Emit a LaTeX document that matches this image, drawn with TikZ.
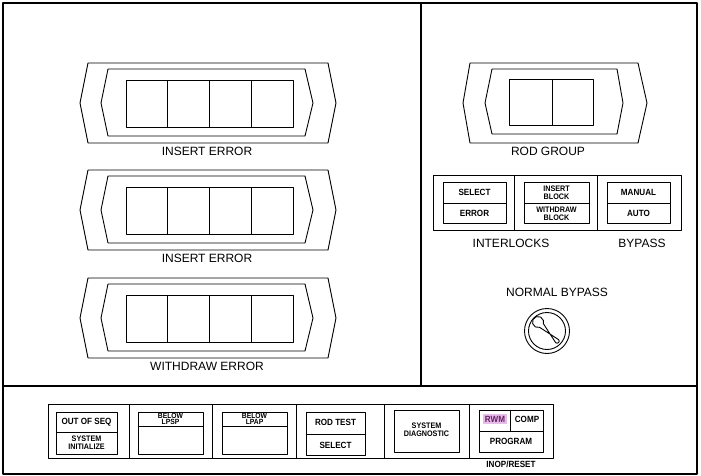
\documentclass[tikz,border=0pt]{standalone}
\usepackage{fontspec}
\setmainfont{Liberation Sans}
\newfontfamily\nf[FakeStretch=0.9]{Liberation Sans}
\definecolor{rwmpink}{RGB}{232,188,232}
\definecolor{rwmtext}{RGB}{100,30,100}
\begin{document}
\begin{tikzpicture}[x=1pt,y=-1pt,line join=round,
  ln/.style={line width=0.9pt},
  frame/.style={line width=1.3pt},
  lbl/.style={font=\fontsize{12}{12}\selectfont,inner sep=0pt},
  sm/.style={font=\nf\bfseries\fontsize{9}{9}\selectfont,inner sep=0pt,align=center},
  smtwo/.style={font=\nf\bfseries\fontsize{8}{8}\selectfont,inner sep=0pt,align=center},
  smtight/.style={font=\nf\bfseries\fontsize{7.5}{6.6}\selectfont,inner sep=0pt,align=center}]
\useasboundingbox (0,0) rectangle (701,476);
% frame
\draw[frame] (3,3) rectangle (697,474);
\draw[line width=1.1pt] (3,386) -- (697,386);
\draw[line width=1.1pt] (421,3) -- (421,386);
% error panels
\foreach \dy/\nm/\txt in {0/ieA/INSERT ERROR,107/ieB/INSERT ERROR,215/weC/WITHDRAW ERROR}{
\begin{scope}[shift={(0,\dy)}]
  \draw[ln] (88,63) -- (328,63) -- (336,103) -- (328,143) -- (88,143) -- (80,103) -- cycle;
  \draw[ln] (108,69) -- (305,69) -- (313,103) -- (305,136) -- (108,136) -- (101,103) -- cycle;
  \draw[ln] (126,80) rectangle (293,127);
  \draw[ln] (167,80) -- (167,127) (209,80) -- (209,127) (251,80) -- (251,127);
  \node[lbl] (\nm) at (207,151) {\txt};
\end{scope}}
% rod group
\draw[ln] (470,63) -- (638,63) -- (647,103) -- (638,143) -- (470,143) -- (463,103) -- cycle;
\draw[ln] (492,69) -- (617,69) -- (623,103) -- (617,134) -- (492,134) -- (485,103) -- cycle;
\draw[ln] (509,79) rectangle (593,125);
\draw[ln] (552,79) -- (552,125);
\node[lbl] (rodgroup) at (548,151) {ROD GROUP};
% interlocks / bypass
\draw[ln] (433,175) rectangle (681,230);
\draw[ln] (514,175) -- (514,230) (597,175) -- (597,230);
\foreach \xa/\xb in {443/506,524/589,607/670}{
  \draw[ln] (\xa,182) rectangle (\xb,223);
  \draw[ln] (\xa,203) -- (\xb,203);
}
\node[sm] (isel) at (474.5,192.5) {SELECT};
\node[sm] (ierr) at (474.5,213.5) {ERROR};
\node[smtwo] (iblk) at (556.5,192.5) {INSERT\\BLOCK};
\node[smtwo] (wblk) at (556.5,213.5) {WITHDRAW\\BLOCK};
\node[sm] (bman) at (638.5,192.5) {MANUAL};
\node[sm] (baut) at (638.5,213.5) {AUTO};
\node[lbl] (interlocks) at (511,243) {INTERLOCKS};
\node[lbl] (bypass) at (642,243) {BYPASS};
% normal bypass key switch
\node[lbl] (nbypass) at (557,292) {NORMAL BYPASS};
\draw[ln] (547,331) circle[radius=22.5];
\draw[ln] (547,331) circle[radius=18.5];
\begin{scope}[shift={(538,322)},x={(0.707pt,-0.707pt)},y={(0.707pt,0.707pt)}]
  \draw[ln] (-28:5.6) arc[start angle=-28,end angle=-332,radius=5.6]
     -- (27,-2.1) arc[start angle=-90,end angle=90,radius=2.1] -- cycle;
\end{scope}
% bottom panel
\draw[ln] (48,404) rectangle (553,458);
\foreach \x in {129,212,296,384,469}{\draw[ln] (\x,404) -- (\x,458);}
% box 1
\draw[ln] (56,412) rectangle (117,454);
\draw[ln] (56,432) -- (117,432);
\node[sm] (oos) at (86.5,422) {OUT OF SEQ};
\node[smtwo] (sysinit) at (86.5,443) {SYSTEM\\INITIALIZE};
% box 2
\draw[ln] (138,412) rectangle (203,454);
\draw[ln] (138,426) -- (203,426);
\node[smtight] (lpsp) at (170.5,419) {BELOW\\LPSP};
% box 3
\draw[ln] (222,412) rectangle (287,454);
\draw[ln] (222,426) -- (287,426);
\node[smtight] (lpap) at (254.5,419) {BELOW\\LPAP};
% box 4
\draw[ln] (306,412) rectangle (365,455);
\draw[ln] (306,434) -- (365,434);
\node[sm] (rodtest) at (335.5,422.5) {ROD TEST};
\node[sm] (rtsel) at (335.5,445) {SELECT};
% box 5
\draw[ln] (394,410) rectangle (459,452);
\node[smtwo] (sysdiag) at (426.5,430) {SYSTEM\\DIAGNOSTIC};
% box 6
\fill[rwmpink] (483,414) rectangle (507,423.5);
\draw[ln] (479,410) rectangle (543,452);
\draw[ln] (479,431) -- (543,431);
\draw[ln] (510,410) -- (510,431);
\node[sm,text=rwmtext] (rwm) at (495,419) {RWM};
\node[sm] (comp) at (527,419) {COMP};
\node[sm] (program) at (511,441) {PROGRAM};
\node[sm] (inop) at (511,464) {INOP/RESET};
\end{tikzpicture}
\end{document}
